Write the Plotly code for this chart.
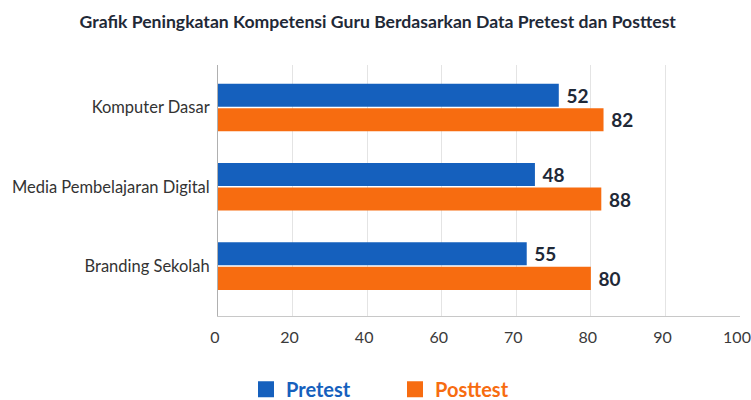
import numpy as np
import plotly.graph_objects as go

title = "Grafik Peningkatan Kompetensi Guru Berdasarkan Data Pretest dan Posttest"
categories = ["Komputer Dasar", "Media Pembelajaran Digital", "Branding Sekolah"]
series_names = ["Pretest", "Posttest"]

# printed values
pretest_values = [52, 48, 55]
posttest_values = [82, 88, 80]

# bar ends as read against the drawn (non-uniform) x axis
pretest_bar = [75.7, 72.5, 71.4]
posttest_bar = [81.7, 81.4, 80.0]

tick_labels = [0, 20, 40, 60, 70, 80, 90, 100]
tick_pos = list(range(len(tick_labels)))  # labels are evenly spaced on the axis


def to_axis(vals):
    return np.interp(vals, tick_labels, tick_pos)


BLUE = "#1560BD"
ORANGE = "#F76C10"
TXT = "#1f2937"
FONT = "Lato"

fig = go.Figure()
for name, bars, vals, col in [
    (series_names[0], pretest_bar, pretest_values, BLUE),
    (series_names[1], posttest_bar, posttest_values, ORANGE),
]:
    fig.add_trace(go.Bar(
        y=categories, x=to_axis(bars), orientation="h",
        name=name, showlegend=False,
        marker=dict(color=col, line=dict(width=0)),
        text=vals, texttemplate=" %{text}", textposition="outside",
        textfont=dict(family=FONT, size=19, color=TXT, weight="bold"),
        cliponaxis=False,
    ))

# legend entries (square swatches, coloured labels)
for name, col in [(series_names[0], BLUE), (series_names[1], ORANGE)]:
    fig.add_trace(go.Scatter(
        x=[None], y=[None], mode="markers",
        name=f'<span style="color:{col}"><b>{name}</b></span>',
        marker=dict(symbol="square", size=17, color=col),
        showlegend=True, hoverinfo="skip",
    ))

fig.update_layout(
    width=751, height=400,
    margin=dict(l=218, r=11, t=65, b=84),
    paper_bgcolor="white", plot_bgcolor="white",
    barmode="group", bargap=0.38, bargroupgap=0.06,
    font=dict(family=FONT, color="#333333"),
    title=dict(text=f"<b>{title}</b>", x=0.503, xref="container", xanchor="center",
               y=1 - 22 / 400, yref="container", yanchor="middle",
               font=dict(family=FONT, size=17.6, color=TXT)),
    xaxis=dict(
        range=[0, len(tick_labels) - 1], automargin=False,
        tickmode="array", tickvals=tick_pos, ticktext=[str(t) for t in tick_labels],
        showgrid=True, gridcolor="#e4e4e4", gridwidth=1,
        zeroline=False, showline=True, linecolor="#c8c8c8", linewidth=1,
        ticks="", tickfont=dict(family=FONT, size=16, color="#3a3a3a"),
        ticklabelstandoff=7, ticklabelshift=-3, ticklabeloverflow="allow",
    ),
    yaxis=dict(
        categoryorder="array", categoryarray=categories, automargin=False,
        range=[2.63, -0.536],
        showgrid=False, zeroline=False,
        showline=True, linecolor="#b0b0b0", linewidth=1,
        ticks="", tickfont=dict(family=FONT, size=16.5, color="#333333"),
        ticklabelstandoff=4,
    ),
    legend=dict(
        orientation="h", xref="container", yref="container",
        x=(266 - 20) / 751, xanchor="left", y=0.027, yanchor="middle",
        font=dict(family=FONT, size=20),
        traceorder="normal", entrywidth=104, itemsizing="trace",
    ),
    showlegend=True,
)

fig.write_html("out.html", config={"displayModeBar": False},
               post_script="document.body.style.margin='0';")
